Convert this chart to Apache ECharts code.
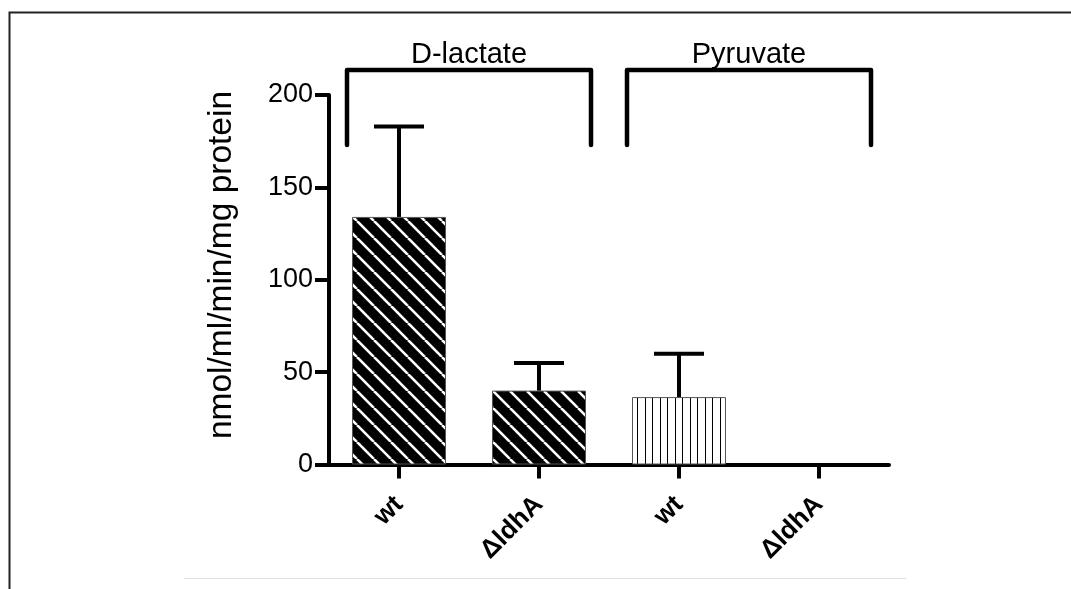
<!DOCTYPE html>
<html>
<head>
<meta charset="utf-8">
<script src="https://cdn.jsdelivr.net/npm/echarts@6/dist/echarts.min.js"></script>
<style>
  html, body { margin: 0; padding: 0; background: #fff; }
  #chart { width: 1071px; height: 589px; }
</style>
</head>
<body>
<div id="chart"></div>
<script>
// data
var categories = ['wt', 'ΔldhA', 'wt', 'ΔldhA'];
var means = [134, 40, 36.5, 0];
var errTops = [183, 55, 60, null];
var groupNames = ['D-lactate', 'Pyruvate'];
var groupStart = [0, 2];
var groupEnd = [1, 3];
var yTicks = [0, 50, 100, 150, 200];

var FONT = '"Liberation Sans", Arial, Helvetica, sans-serif';

// hatch patterns
function diagTile() {
  var s = 17;
  var c = document.createElement('canvas');
  c.width = s; c.height = s;
  var g = c.getContext('2d');
  g.fillStyle = '#000';
  g.fillRect(0, 0, s, s);
  g.strokeStyle = '#fff';
  g.lineWidth = 2.6;
  for (var k = -1; k <= 1; k++) {
    g.beginPath();
    g.moveTo(k * s, 0);
    g.lineTo(k * s + s, s);
    g.stroke();
  }
  return c;
}
function vertTile() {
  var c = document.createElement('canvas');
  c.width = 15; c.height = 10;
  var g = c.getContext('2d');
  g.fillStyle = '#fff';
  g.fillRect(0, 0, 15, 10);
  g.fillStyle = '#000';
  g.fillRect(0, 0, 1, 10);
  g.fillRect(7, 0, 1, 10);
  return c;
}
var diag = { image: diagTile(), repeat: 'repeat' };
var vert = { image: vertTile(), repeat: 'repeat' };
var fills = [diag, diag, vert, vert];

var barData = means.map(function (v, i) {
  return { value: v, itemStyle: { color: fills[i], borderWidth: v > 0 ? 1 : 0 } };
});
var errData = [];
errTops.forEach(function (t, i) {
  if (t != null) errData.push([i, means[i], t]);
});
var bracketData = groupStart.map(function (s, i) { return [s, groupEnd[i]]; });

var chart = echarts.init(document.getElementById('chart'));
var option = {
  animation: false,
  backgroundColor: '#fff',
  grid: { left: 329, right: 182, top: 95, bottom: 124.5 },
  xAxis: {
    type: 'category',
    data: categories,
    axisLine: { lineStyle: { color: '#000', width: 4 } },
    axisTick: { show: true, alignWithLabel: true, length: 14, lineStyle: { color: '#000', width: 4 } },
    axisLabel: {
      rotate: 45,
      margin: 36,
      color: '#000',
      fontFamily: FONT,
      fontWeight: 'bold',
      fontSize: 26
    }
  },
  yAxis: {
    type: 'value',
    min: yTicks[0],
    max: yTicks[yTicks.length - 1],
    interval: 50,
    axisLine: { show: true, lineStyle: { color: '#000', width: 4 } },
    axisTick: { show: true, length: 14, lineStyle: { color: '#000', width: 4 } },
    axisLabel: { margin: 16, color: '#000', fontFamily: FONT, fontSize: 27 },
    splitLine: { show: false }
  },
  graphic: [
    {
      type: 'rect',
      shape: { x: 9.5, y: 12.5, width: 1200, height: 700 },
      style: { fill: 'none', stroke: '#222', lineWidth: 2 },
      silent: true
    },
    {
      type: 'line',
      shape: { x1: 184, y1: 578.5, x2: 906, y2: 578.5 },
      style: { stroke: '#e0e0e0', lineWidth: 1 },
      silent: true
    },
    {
      type: 'text',
      x: 222,
      y: 265,
      rotation: Math.PI / 2,
      style: {
        text: 'nmol/ml/min/mg protein',
        fill: '#000',
        font: '33.5px ' + FONT,
        align: 'center',
        verticalAlign: 'middle'
      }
    }
  ],
  series: [
    {
      type: 'bar',
      data: barData,
      barWidth: 94,
      itemStyle: { borderColor: '#555' },
      z: 2
    },
    {
      // error bars (upper only)
      type: 'custom',
      data: errData,
      encode: { x: 0, y: [1, 2] },
      z: 3,
      renderItem: function (params, api) {
        var i = api.value(0);
        var b = api.coord([i, api.value(1)]);
        var t = api.coord([i, api.value(2)]);
        var st = { stroke: '#000', lineWidth: 4 };
        return {
          type: 'group',
          children: [
            { type: 'line', shape: { x1: b[0], y1: b[1], x2: t[0], y2: t[1] }, style: st },
            { type: 'line', shape: { x1: t[0] - 25, y1: t[1], x2: t[0] + 25, y2: t[1] }, style: st }
          ]
        };
      }
    },
    {
      // group brackets with labels
      type: 'custom',
      data: bracketData,
      encode: { x: [0, 1] },
      clip: false,
      z: 3,
      renderItem: function (params, api) {
        var a = api.coord([api.value(0), 200]);
        var c = api.coord([api.value(1), 200]);
        var x1 = a[0] - 52, x2 = c[0] + 52;
        var yTop = a[1] - 25, yEnd = a[1] + 50;
        return {
          type: 'group',
          children: [
            {
              type: 'polyline',
              shape: { points: [[x1, yEnd], [x1, yTop], [x2, yTop], [x2, yEnd]] },
              style: { stroke: '#000', lineWidth: 4.5, fill: null, lineJoin: 'round', lineCap: 'round' }
            },
            {
              type: 'text',
              x: (x1 + x2) / 2,
              y: yTop - 15,
              style: {
                text: groupNames[params.dataIndex],
                fill: '#000',
                font: '29px ' + FONT,
                align: 'center',
                verticalAlign: 'middle'
              }
            }
          ]
        };
      }
    }
  ]
};
chart.setOption(option);
</script>
</body>
</html>
